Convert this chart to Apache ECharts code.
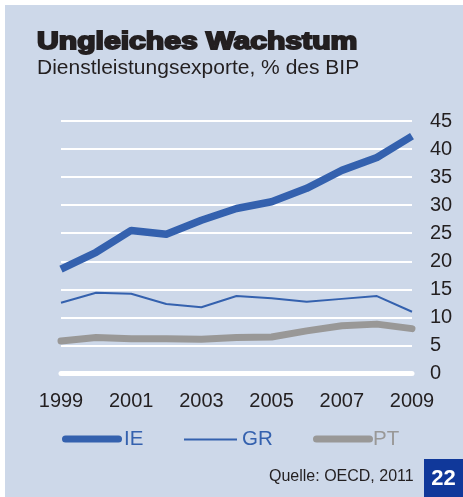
<!DOCTYPE html>
<html>
<head>
    <meta charset="UTF-8">
    <title>Ungleiches Wachstum</title>
    <script type="text/javascript" src="https://cdn.jsdelivr.net/npm/echarts@6/dist/echarts.min.js"></script>
</head>
<body style="margin: 0;padding: 0;background: #fff;">
    <div style="position:absolute;left:5px;top:5px;width:458px;height:492px;background:#cdd8e9;"></div>
    <div id="container" style="position:absolute;left:0;top:0;width:463px; height:497px;"></div>
    <script>
        // Dienstleistungsexporte in % des BIP (OECD, 2011)
        var years = ['1999', '2000', '2001', '2002', '2003', '2004', '2005', '2006', '2007', '2008', '2009'];
        var ieValues = [18.6, 21.6, 25.5, 24.8, 27.3, 29.4, 30.6, 33.0, 36.2, 38.5, 42.3];
        var grValues = [12.6, 14.4, 14.2, 12.4, 11.8, 13.8, 13.4, 12.8, 13.3, 13.8, 11.0];
        var ptValues = [5.8, 6.4, 6.2, 6.2, 6.1, 6.4, 6.5, 7.6, 8.5, 8.8, 8.0];
        var yTicks = [0, 5, 10, 15, 20, 25, 30, 35, 40, 45];

        var blue = '#3461ae';
        var grey = '#999897';
        var ink = '#231f20';
        var font = 'Liberation Sans';

        var chart = echarts.init(document.getElementById('container'), null, { renderer: 'canvas' });

        // eine Legende pro Reihe, weil die Linienstärken verschieden sind
        function legendFor(name, left, top, w, h, icon, color, gap) {
            return {
                data: [name],
                left: left,
                top: top,
                padding: 0,
                icon: icon,
                itemWidth: w,
                itemHeight: h,
                itemGap: 0,
                textStyle: { color: color, fontSize: 20.5, fontFamily: font, padding: [0, 0, 0, gap - 5] }
            };
        }
        var capsule = 'path://M3.5,0H56.5A3.5,3.5,0,0,1,56.5,7H3.5A3.5,3.5,0,0,1,3.5,0Z';

        var option = {
            animation: false,
            legend: [
                legendFor('IE', 62, 428.5, 60, 7, capsule, blue, 2),
                legendFor('GR', 184, 429, 53, 2, 'rect', blue, 5),
                legendFor('PT', 313, 428.5, 60, 7, capsule, grey, 0)
            ],
            grid: {
                left: 61,
                right: 51,
                top: 121,
                bottom: 123.5
            },
            xAxis: {
                type: 'category',
                boundaryGap: false,
                data: years,
                axisLine: { show: true, lineStyle: { color: '#fff', width: 5 } },
                axisTick: { show: false },
                axisLabel: {
                    interval: 1,
                    margin: 18,
                    fontSize: 20,
                    fontFamily: font,
                    color: ink
                }
            },
            yAxis: {
                type: 'value',
                position: 'right',
                min: yTicks[0],
                max: yTicks[yTicks.length - 1],
                interval: 5,
                axisLine: { show: false },
                axisTick: { show: false },
                splitLine: { lineStyle: { color: '#fff', width: 2 } },
                axisLabel: {
                    margin: 18,
                    align: 'left',
                    fontSize: 20,
                    fontFamily: font,
                    color: ink
                }
            },
            series: [{
                name: 'GR',
                type: 'line',
                data: grValues,
                symbol: 'none',
                lineStyle: { color: blue, width: 2 },
                itemStyle: { color: blue }
            }, {
                name: 'PT',
                type: 'line',
                data: ptValues,
                symbol: 'none',
                lineStyle: { color: grey, width: 7, join: 'round', cap: 'round' },
                itemStyle: { color: grey }
            }, {
                name: 'IE',
                type: 'line',
                data: ieValues,
                symbol: 'none',
                lineStyle: { color: blue, width: 7.5, join: 'round' },
                itemStyle: { color: blue }
            }],
            graphic: [{
                type: 'text',
                x: 37,
                y: 31,
                scaleX: 1.31,
                style: {
                    text: 'Ungleiches Wachstum', fontSize: 23, fontWeight: 'bold', fontFamily: font,
                    fill: ink, stroke: ink, lineWidth: 1.8
                }
            }, {
                type: 'text',
                x: 37,
                y: 58,
                scaleX: 1.05,
                style: { text: 'Dienstleistungsexporte, % des BIP', fontSize: 20, fontFamily: font, fill: ink }
            }, {
                type: 'text',
                x: 269,
                y: 469,
                style: { text: 'Quelle: OECD, 2011', fontSize: 16, fontFamily: font, fill: ink }
            }, {
                type: 'rect',
                shape: { x: 424, y: 459, width: 39, height: 38 },
                style: { fill: '#10389a' }
            }, {
                type: 'text',
                x: 443.5,
                y: 479,
                style: {
                    text: '22', fontSize: 22, fontWeight: 'bold', fontFamily: font,
                    fill: '#fff', align: 'center', verticalAlign: 'middle'
                }
            }]
        };
        chart.setOption(option);
    </script>
</body>
</html>
